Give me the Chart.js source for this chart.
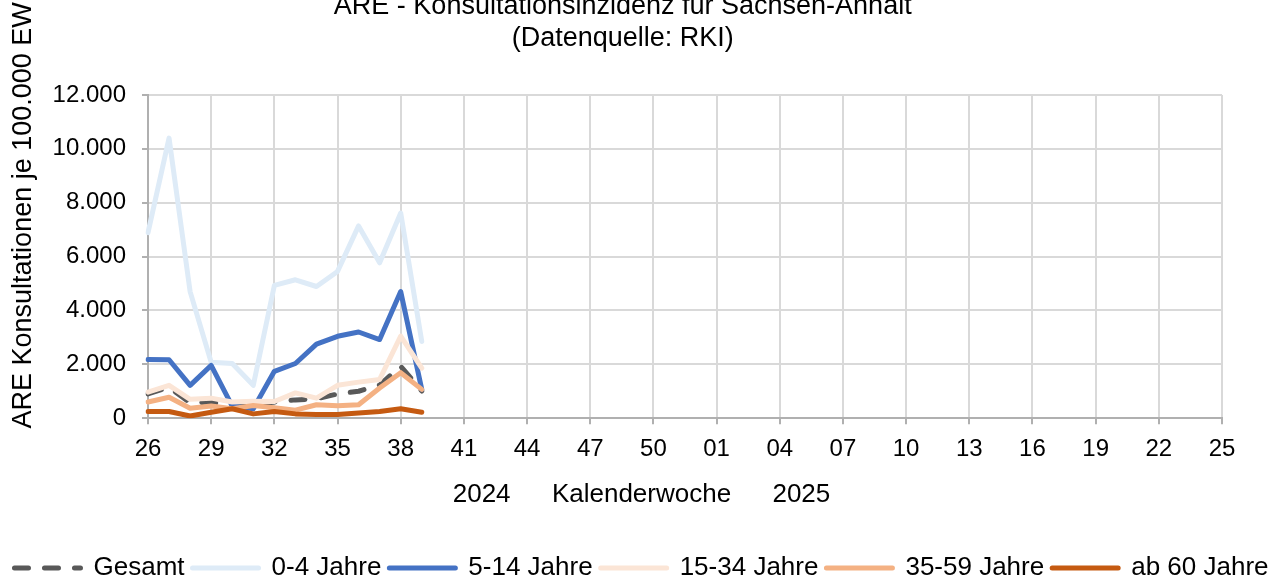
<!DOCTYPE html>
<html lang="de">
<head>
<meta charset="UTF-8">
<title>ARE - Konsultationsinzidenz für Sachsen-Anhalt</title>
<script src="https://cdn.jsdelivr.net/npm/chart.js"></script>
<style>
  html, body { margin: 0; padding: 0; background: #fff; }
  canvas { display: block; }
</style>
</head>
<body>
<canvas id="areChart" width="1283" height="580"></canvas>
<script>
// Kalenderwochen 26/2024 bis 25/2025
const weeks = ['26','27','28','29','30','31','32','33','34','35','36','37','38','39','40','41','42','43','44','45','46','47','48','49','50','51','52',
               '01','02','03','04','05','06','07','08','09','10','11','12','13','14','15','16','17','18','19','20','21','22','23','24','25'];

// ARE-Konsultationen je 100.000 EW (bisher bis KW 39)
const gesamt   = [900, 1150, 570, 600, 440, 480, 600, 680, 720, 900, 1000, 1230, 1930, 1010];
const jahre0_4 = [6890, 10400, 4700, 2080, 2030, 1220, 4930, 5140, 4890, 5450, 7140, 5770, 7620, 2850];
const jahre5_14 = [2180, 2170, 1220, 1960, 450, 350, 1740, 2030, 2750, 3040, 3200, 2920, 4700, 1070];
const jahre15_34 = [970, 1220, 700, 745, 600, 630, 620, 940, 745, 1220, 1340, 1440, 3050, 1860];
const jahre35_59 = [600, 780, 370, 450, 350, 470, 390, 300, 500, 460, 500, 1120, 1690, 1070];
const ab60 = [250, 250, 80, 220, 350, 160, 250, 160, 140, 140, 190, 250, 350, 220];

const seriesNames = ['Gesamt', '0-4 Jahre', '5-14 Jahre', '15-34 Jahre', '35-59 Jahre', 'ab 60 Jahre'];
const seriesData = [gesamt, jahre0_4, jahre5_14, jahre15_34, jahre35_59, ab60];
const seriesColors = ['#595959', '#deebf7', '#4472c4', '#fbe5d6', '#f4b183', '#c55a11'];

const yTicks = [0, 2000, 4000, 6000, 8000, 10000, 12000];

Chart.defaults.font.family = '"Liberation Sans", Arial, sans-serif';
Chart.defaults.color = '#000';

const fmt = v => String(v).replace(/\B(?=(\d{3})+(?!\d))/g, '.');

const datasets = seriesData.map((d, i) => ({
    label: seriesNames[i],
    data: d,
    borderColor: seriesColors[i],
    backgroundColor: seriesColors[i],
    borderWidth: 5,
    borderDash: i === 0 ? [14, 16] : [],
    borderCapStyle: 'round',
    borderJoinStyle: 'round',
    pointRadius: 0,
    tension: 0,
    order: seriesData.length - 1 - i   // later series on top, like Excel
}));

new Chart(document.getElementById('areChart'), {
    type: 'line',
    data: { labels: weeks, datasets: datasets },
    options: {
        responsive: false,
        animation: false,
        layout: { padding: { left: 0, right: 0, top: 0, bottom: -11 } },
        scales: {
            x: {
                offset: false,
                grid: {
                    color: c => c.index % 3 === 0 ? '#d9d9d9' : 'transparent',
                    tickColor: c => c.index % 3 === 0 ? '#b0b0b0' : 'transparent',
                    lineWidth: 2,
                    tickLength: 6
                },
                border: { color: '#b0b0b0', width: 2 },
                ticks: {
                    autoSkip: false,
                    maxRotation: 0,
                    padding: 11,
                    font: { size: 24 },
                    callback: (v, i) => i % 3 === 0 ? weeks[i] : ''
                }
            },
            y: {
                min: 0,
                max: 12000,
                afterBuildTicks: s => { s.ticks = yTicks.map(v => ({ value: v })); },
                afterFit: s => { s.width = 148; },
                grid: { color: '#d9d9d9', lineWidth: 2, tickLength: 6, tickColor: '#b0b0b0' },
                border: { color: '#b0b0b0', width: 2 },
                ticks: { padding: 16, font: { size: 24 }, callback: v => fmt(v) },
                title: {
                    display: true,
                    // leading blanks move the label down like in the original
                    text: ' '.repeat(11) + 'ARE Konsultationen je 100.000 EW',
                    font: { size: 27 },
                    padding: { top: 7, bottom: 10 }
                }
            },
            // keeps the free space right of the plot
            rechts: {
                position: 'right',
                display: true,
                grid: { display: false },
                border: { display: false },
                ticks: { display: false },
                afterFit: s => { s.width = 61; }
            }
        },
        plugins: {
            title: {
                display: true,
                text: ['ARE - Konsultationsinzidenz für Sachsen-Anhalt     ', '(Datenquelle: RKI)     '],
                font: { size: 27, weight: 'normal', lineHeight: 1.2 },
                color: '#000',
                padding: { top: -10.1, bottom: 40.3 }
            },
            subtitle: {
                display: true,
                position: 'bottom',
                weight: 500,
                text: '2024     \u2009Kalenderwoche     \u20092025',
                font: { size: 26, weight: 'normal' },
                color: '#000',
                padding: { top: 4.4, bottom: 36.4 }
            },
            legend: {
                position: 'bottom',
                labels: {
                    usePointStyle: true,
                    pointStyle: 'line',
                    pointStyleWidth: 66,
                    padding: 8,
                    font: { size: 26 },
                    color: '#000',
                    sort: (a, b) => a.datasetIndex - b.datasetIndex,
                    generateLabels: chart => Chart.defaults.plugins.legend.labels.generateLabels(chart).map(item => {
                        const ds = chart.data.datasets[item.datasetIndex];
                        item.lineDash = ds.borderDash;
                        item.lineWidth = ds.borderWidth;
                        item.strokeStyle = ds.borderColor;
                        item.lineCap = 'round';
                        return item;
                    })
                }
            },
            tooltip: { enabled: false }
        }
    }
});
</script>
</body>
</html>
